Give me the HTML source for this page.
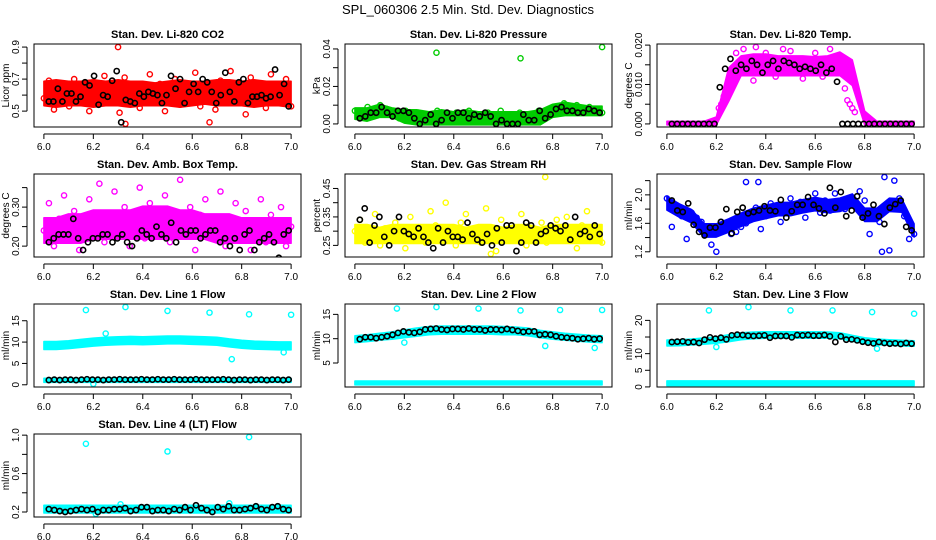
<!DOCTYPE html>
<html><head><meta charset="utf-8"><style>
html,body{margin:0;padding:0;background:#fff}
svg{display:block;font-family:"Liberation Sans",Arial,sans-serif}
</style></head><body>
<svg id="chart" width="936" height="540" viewBox="0 0 936 540" xmlns="http://www.w3.org/2000/svg">
<rect width="936" height="540" fill="#fff"/>
<text x="468" y="14" text-anchor="middle" font-size="13">SPL_060306  2.5 Min. Std. Dev. Diagnostics</text>
</svg>
<script>
const xTicks=[6.0,6.2,6.4,6.6,6.8,7.0];
const xTickLabels=["6.0","6.2","6.4","6.6","6.8","7.0"];
const bandX=[6.00,6.05,6.10,6.15,6.20,6.25,6.30,6.35,6.40,6.45,6.50,6.55,6.60,6.65,6.70,6.75,6.80,6.85,6.90,6.95,7.00];

const co2Lo=[0.54,0.53,0.54,0.54,0.53,0.54,0.54,0.53,0.54,0.54,0.54,0.53,0.54,0.55,0.54,0.54,0.54,0.53,0.54,0.54,0.53];
const co2Hi=[0.68,0.69,0.68,0.68,0.69,0.68,0.69,0.68,0.68,0.67,0.68,0.69,0.68,0.68,0.69,0.69,0.68,0.69,0.68,0.68,0.68];
const co2Pts=[0.58,0.69,0.51,0.62,0.66,0.53,0.70,0.57,0.64,0.50,0.68,0.60,0.72,0.55,0.63,0.49,0.71,0.59,0.66,0.52,0.61,0.73,0.56,0.67,0.50,0.64,0.70,0.54,0.62,0.58,0.74,0.53,0.66,0.60,0.51,0.69,0.57,0.75,0.55,0.63,0.48,0.71,0.59,0.67,0.52,0.73,0.61,0.56,0.70,0.53];
const co2Black=[0.56,0.56,0.64,0.56,0.61,0.61,0.56,0.59,0.68,0.66,0.72,0.54,0.60,0.59,0.69,0.75,0.43,0.57,0.56,0.55,0.61,0.59,0.62,0.61,0.60,0.55,0.60,0.72,0.64,0.70,0.55,0.62,0.67,0.62,0.70,0.68,0.62,0.55,0.60,0.74,0.62,0.56,0.68,0.70,0.55,0.59,0.59,0.60,0.58,0.59,0.76,0.60,0.67,0.53];
const co2OutX=[6.30,6.33,6.67];
const co2OutY=[0.90,0.42,0.43];

const presLo=[0.003,0.002,0.004,0.004,0.001,0.000,0.000,0.000,0.000,0.000,0.000,0.000,0.000,0.000,0.000,0.000,0.004,0.005,0.005,0.005,0.005];
const presHi=[0.008,0.008,0.010,0.008,0.007,0.007,0.006,0.007,0.006,0.007,0.006,0.006,0.006,0.006,0.006,0.007,0.010,0.011,0.010,0.009,0.009];
const presPts=[0.007,0.004,0.009,0.006,0.010,0.008,0.005,0.003,0.007,0.002,0.006,0.004,0.001,0.007,0.005,0.002,0.006,0.004,0.007,0.003,0.005,0.006,0.002,0.007,0.004,0.001,0.006,0.005,0.003,0.007,0.004,0.006,0.009,0.011,0.008,0.010,0.007,0.009,0.008,0.006];
const presBlack=[0.003,0.004,0.006,0.006,0.009,0.006,0.004,0.007,0.007,0.006,0.003,0.000,0.002,0.005,0.000,0.002,0.006,0.003,0.006,0.006,0.003,0.005,0.004,0.006,0.004,0.000,0.002,0.000,0.000,0.000,0.005,0.002,0.002,0.007,0.003,0.005,0.008,0.009,0.007,0.007,0.006,0.006,0.008,0.007,0.006];
const presOutX=[6.33,6.67,7.00];
const presOutY=[0.038,0.035,0.041];

const tempLo=[0,0,0,0,0,0.006,0.0125,0.0125,0.0125,0.0125,0.0125,0.0125,0.0125,0.0125,0.0125,0.010,0,0,0,0,0];
const tempHi=[0.0004,0.0004,0.0004,0.0004,0.0015,0.014,0.017,0.0175,0.0175,0.017,0.017,0.017,0.0168,0.017,0.018,0.016,0.003,0.0004,0.0004,0.0004,0.0004];
const tempOutX=[6.21,6.22,6.23,6.24,6.25,6.28,6.31,6.35,6.36,6.40,6.44,6.47,6.50,6.55,6.60,6.63,6.66,6.72,6.73,6.74,6.75,6.76];
const tempOutY=[0.004,0.005,0.007,0.009,0.010,0.018,0.019,0.011,0.0195,0.018,0.012,0.019,0.0185,0.0115,0.018,0.012,0.019,0.009,0.006,0.005,0.004,0.003];
const tempBlack=[0,0,0,0,0,0,0,0,0,0.0093,0.014,0.0165,0.0135,0.015,0.014,0.016,0.015,0.013,0.015,0.016,0.014,0.016,0.0155,0.015,0.014,0.0145,0.014,0.0135,0.015,0.013,0.014,0.0107,0,0,0,0,0,0,0,0,0,0,0,0,0,0];

const ambLo=[0.21,0.21,0.21,0.21,0.22,0.22,0.22,0.22,0.22,0.22,0.22,0.22,0.22,0.22,0.21,0.21,0.21,0.21,0.21,0.21,0.21];
const ambHi=[0.27,0.27,0.28,0.28,0.29,0.29,0.29,0.29,0.30,0.30,0.30,0.29,0.29,0.28,0.28,0.28,0.27,0.27,0.27,0.27,0.27];
const ambPts=[0.24,0.31,0.20,0.27,0.33,0.22,0.29,0.19,0.26,0.32,0.23,0.36,0.21,0.28,0.34,0.25,0.30,0.20,0.27,0.35,0.22,0.31,0.24,0.29,0.33,0.21,0.26,0.37,0.23,0.30,0.19,0.28,0.32,0.22,0.27,0.34,0.20,0.25,0.31,0.23,0.29,0.19,0.26,0.32,0.21,0.28,0.24,0.30,0.20,0.25];
const ambBlack=[0.21,0.22,0.23,0.23,0.23,0.27,0.22,0.19,0.21,0.22,0.22,0.23,0.23,0.21,0.22,0.23,0.21,0.20,0.22,0.24,0.23,0.22,0.25,0.23,0.22,0.26,0.21,0.24,0.23,0.24,0.24,0.22,0.23,0.24,0.24,0.21,0.22,0.20,0.22,0.19,0.23,0.24,0.19,0.21,0.22,0.23,0.21,0.17,0.23,0.24];

const rhLo=[0.26,0.26,0.26,0.26,0.26,0.26,0.26,0.26,0.26,0.26,0.26,0.26,0.26,0.26,0.26,0.26,0.26,0.26,0.26,0.26,0.26];
const rhHi=[0.32,0.32,0.31,0.32,0.32,0.32,0.32,0.32,0.32,0.31,0.32,0.32,0.31,0.32,0.32,0.31,0.32,0.32,0.32,0.32,0.32];
const rhPts=[0.30,0.34,0.26,0.28,0.36,0.25,0.31,0.27,0.33,0.29,0.24,0.35,0.28,0.30,0.26,0.37,0.32,0.27,0.40,0.29,0.25,0.33,0.36,0.28,0.31,0.26,0.38,0.30,0.23,0.34,0.27,0.32,0.29,0.36,0.25,0.31,0.28,0.33,0.26,0.30,0.34,0.27,0.35,0.29,0.24,0.32,0.37,0.28,0.30,0.26];
const rhBlack=[0.34,0.38,0.26,0.32,0.35,0.28,0.25,0.30,0.35,0.30,0.29,0.28,0.31,0.28,0.26,0.24,0.31,0.26,0.30,0.28,0.28,0.27,0.33,0.29,0.27,0.26,0.29,0.25,0.31,0.26,0.32,0.32,0.23,0.26,0.33,0.32,0.26,0.29,0.30,0.32,0.31,0.30,0.32,0.27,0.35,0.29,0.30,0.28,0.32,0.29];
const rhOutX=[6.77,6.55];
const rhOutY=[0.49,0.22];

const sfLo=[1.80,1.70,1.62,1.42,1.42,1.49,1.57,1.64,1.68,1.72,1.72,1.76,1.79,1.76,1.78,1.84,1.64,1.64,1.78,1.77,1.42];
const sfHi=[1.96,1.86,1.78,1.58,1.58,1.65,1.73,1.80,1.84,1.88,1.88,1.92,1.95,1.92,1.94,2.00,1.80,1.80,1.94,1.93,1.58];
const sfPts=[1.95,1.55,1.80,1.70,1.38,1.75,1.68,1.62,1.45,1.30,1.20,1.62,1.58,1.45,1.48,1.55,1.60,1.72,1.82,1.52,1.70,1.88,1.75,1.62,1.85,1.95,1.78,1.90,1.68,1.82,2.02,1.75,1.92,1.78,2.02,1.88,1.80,1.95,1.85,2.05,1.92,1.45,1.70,1.62,1.80,1.22,2.20,1.95,1.70,1.38,1.45];
const sfBlack=[1.92,1.78,1.76,1.88,1.58,1.48,1.43,1.54,1.54,1.62,1.80,1.46,1.76,1.82,1.74,1.76,1.78,1.84,1.78,1.77,1.93,1.68,1.77,1.86,1.86,1.97,1.86,1.81,1.74,2.10,1.82,2.04,1.70,1.78,1.98,1.68,1.74,1.86,1.70,1.59,1.82,1.87,1.92,1.55,1.50];
const sfOutX=[6.32,6.37,6.88,6.87];
const sfOutY=[2.18,2.18,2.25,1.20];

const l1Lo=[8.5,8.5,8.7,9.0,9.3,9.5,9.6,9.7,9.6,9.7,9.8,9.8,9.7,9.6,9.5,9.1,8.8,8.6,8.5,8.4,8.4];
const l1Hi=[9.9,9.9,10.1,10.4,10.7,10.9,11.0,11.1,11.0,11.1,11.2,11.2,11.1,11.0,10.9,10.5,10.2,10.0,9.9,9.8,9.8];
const l1LowLo=[0.8,0.8,0.8,0.8,0.8,0.8,0.8,0.8,0.8,0.8,0.8,0.8,0.8,0.8,0.8,0.8,0.8,0.8,0.8,0.8,0.8];
const l1LowHi=[1.3,1.3,1.3,1.3,1.3,1.3,1.4,1.4,1.4,1.4,1.4,1.4,1.4,1.4,1.3,1.3,1.3,1.3,1.3,1.3,1.3];
const l1Black=[1.1,1.2,1.1,1.2,1.2,1.1,1.2,1.3,1.2,1.2,1.1,1.2,1.2,1.3,1.2,1.2,1.2,1.3,1.2,1.2,1.3,1.2,1.2,1.3,1.2,1.2,1.2,1.3,1.2,1.2,1.2,1.2,1.3,1.2,1.1,1.2,1.2,1.1,1.2,1.2,1.1,1.2,1.2,1.1,1.2];
const l1OutX=[6.17,6.33,6.50,6.67,6.83,7.00,6.25,6.76,6.97,6.20];
const l1OutY=[17.5,18.2,17.3,16.9,16.5,16.4,12.0,6.0,7.6,0.2];

const l2Lo=[9.4,9.6,9.9,10.1,10.4,10.7,11.0,11.1,11.1,11.1,11.1,11.1,11.0,11.0,10.8,10.4,10.1,9.9,9.7,9.5,9.4];
const l2Hi=[10.4,10.6,10.9,11.2,11.6,12.0,12.3,12.4,12.4,12.4,12.4,12.4,12.3,12.2,12.0,11.5,11.2,10.9,10.7,10.5,10.4];
const l2LowLo=[0.7,0.7,0.7,0.7,0.7,0.7,0.7,0.7,0.7,0.7,0.7,0.7,0.7,0.7,0.7,0.7,0.7,0.7,0.7,0.7,0.7];
const l2LowHi=[1.1,1.1,1.1,1.1,1.1,1.1,1.1,1.1,1.1,1.1,1.1,1.1,1.1,1.1,1.1,1.1,1.1,1.1,1.1,1.1,1.1];
const l2Black=[9.9,10.3,10.3,10.1,10.3,10.5,10.8,11.2,11.5,11.3,11.2,11.4,11.9,12.0,12.1,11.9,11.8,12.0,12.0,11.9,12.1,11.9,11.9,11.7,11.9,11.9,11.8,12.0,11.8,11.6,11.4,11.5,11.5,10.8,10.9,10.8,10.5,10.3,10.2,10.1,9.9,10.0,10.1,9.9,10.0];
const l2OutX=[6.17,6.33,6.50,6.67,6.83,7.00,6.77,6.97,6.20];
const l2OutY=[16.2,16.5,16.2,15.8,15.9,15.9,8.5,8.1,9.2];

const l3Lo=[12.6,12.7,12.9,13.1,13.4,13.9,14.5,14.8,14.9,14.9,14.9,14.9,14.9,14.9,14.8,14.0,13.4,13.0,12.8,12.6,12.5];
const l3Hi=[13.8,13.9,14.1,14.4,14.8,15.4,16.0,16.2,16.3,16.3,16.3,16.3,16.3,16.2,16.0,15.2,14.5,14.1,13.9,13.7,13.6];
const l3LowLo=[0.7,0.7,0.7,0.7,0.7,0.7,0.7,0.7,0.7,0.7,0.7,0.7,0.7,0.7,0.7,0.7,0.7,0.7,0.7,0.7,0.7];
const l3LowHi=[1.5,1.5,1.5,1.5,1.5,1.5,1.5,1.5,1.5,1.5,1.5,1.5,1.5,1.5,1.5,1.5,1.5,1.5,1.5,1.5,1.5];
const l3Black=[13.5,13.6,13.7,13.4,13.5,13.2,14.2,14.9,14.5,14.8,14.3,15.5,15.7,15.6,15.4,15.3,15.4,15.5,14.8,15.3,15.3,15.3,14.9,15.6,15.5,15.6,15.4,15.4,15.6,15.2,13.5,15.2,14.2,14.3,14.0,13.6,13.3,13.1,13.5,13.2,13.0,13.1,12.9,13.2,13.0];
const l3OutX=[6.17,6.33,6.50,6.67,6.83,7.00,6.20,6.85];
const l3OutY=[23.0,24.0,23.0,23.0,22.5,22.0,12.0,11.5];

const l4Lo=[0.20,0.20,0.20,0.20,0.20,0.20,0.20,0.20,0.20,0.20,0.20,0.20,0.20,0.20,0.20,0.20,0.20,0.20,0.20,0.20,0.20];
const l4Hi=[0.26,0.26,0.26,0.26,0.26,0.26,0.26,0.26,0.26,0.26,0.26,0.26,0.26,0.26,0.26,0.26,0.26,0.26,0.26,0.26,0.26];
const l4Black=[0.23,0.22,0.21,0.20,0.21,0.22,0.23,0.22,0.23,0.20,0.22,0.22,0.23,0.23,0.24,0.21,0.22,0.25,0.25,0.21,0.22,0.22,0.21,0.23,0.22,0.25,0.22,0.27,0.24,0.22,0.20,0.25,0.23,0.26,0.22,0.22,0.23,0.24,0.26,0.23,0.22,0.25,0.26,0.23,0.22];
const l4OutX=[6.17,6.50,6.83,6.31,6.75,6.21];
const l4OutY=[0.91,0.83,0.98,0.28,0.29,0.18];

const panels=[
 {name:"co2",title:"Stan. Dev. Li-820 CO2",ylab:"Licor ppm",col:0,row:0,color:"#ff0000",ylim:[0.42,0.90],ticks:[0.5,0.6,0.7,0.8,0.9],labels:["0.5","","0.7","","0.9"],bands:[[co2Lo,co2Hi]],pts:co2Pts,black:co2Black,outX:co2OutX,outY:co2OutY},
 {name:"pressure",title:"Stan. Dev. Li-820 Pressure",ylab:"kPa",col:1,row:0,color:"#00cc00",ylim:[0,0.041],ticks:[0,0.01,0.02,0.03,0.04],labels:["0.00","","0.02","","0.04"],bands:[[presLo,presHi]],pts:presPts,black:presBlack,outX:presOutX,outY:presOutY},
 {name:"temp",title:"Stan. Dev. Li-820 Temp.",ylab:"degrees C",col:2,row:0,color:"#ff00ff",ylim:[0,0.0195],ticks:[0,0.005,0.010,0.015,0.020],labels:["0.000","","0.010","","0.020"],bands:[[tempLo,tempHi]],pts:[],black:tempBlack,outX:tempOutX,outY:tempOutY},
 {name:"amb-box",title:"Stan. Dev. Amb. Box Temp.",ylab:"degrees C",col:0,row:1,color:"#ff00ff",ylim:[0.18,0.377],ticks:[0.20,0.25,0.30,0.35],labels:["0.20","","0.30",""],bands:[[ambLo,ambHi]],pts:ambPts,black:ambBlack,outX:[],outY:[]},
 {name:"gas-rh",title:"Stan. Dev. Gas Stream RH",ylab:"percent",col:1,row:1,color:"#ffff00",ylim:[0.22,0.49],ticks:[0.25,0.30,0.35,0.40,0.45],labels:["0.25","","0.35","","0.45"],bands:[[rhLo,rhHi]],pts:rhPts,black:rhBlack,outX:rhOutX,outY:rhOutY},
 {name:"sample-flow",title:"Stan. Dev. Sample Flow",ylab:"ml/min",col:2,row:1,color:"#0000ff",ylim:[1.17,2.25],ticks:[1.2,1.4,1.6,1.8,2.0,2.2],labels:["1.2","","1.6","","2.0",""],bands:[[sfLo,sfHi]],pts:sfPts,black:sfBlack,outX:sfOutX,outY:sfOutY},
 {name:"line1",title:"Stan. Dev. Line 1 Flow",ylab:"ml/min",col:0,row:2,color:"#00ffff",ylim:[0.2,18.2],ticks:[0,5,10,15],labels:["0","5","10","15"],bands:[[l1Lo,l1Hi],[l1LowLo,l1LowHi]],pts:[],black:l1Black,outX:l1OutX,outY:l1OutY},
 {name:"line2",title:"Stan. Dev. Line 2 Flow",ylab:"ml/min",col:1,row:2,color:"#00ffff",ylim:[0.7,16.5],ticks:[5,10,15],labels:["5","10","15"],bands:[[l2Lo,l2Hi],[l2LowLo,l2LowHi]],pts:[],black:l2Black,outX:l2OutX,outY:l2OutY},
 {name:"line3",title:"Stan. Dev. Line 3 Flow",ylab:"ml/min",col:2,row:2,color:"#00ffff",ylim:[0.9,24.0],ticks:[0,5,10,15,20],labels:["0","5","10","","20"],bands:[[l3Lo,l3Hi],[l3LowLo,l3LowHi]],pts:[],black:l3Black,outX:l3OutX,outY:l3OutY},
 {name:"line4",title:"Stan. Dev. Line 4 (LT) Flow",ylab:"ml/min",col:0,row:3,color:"#00ffff",ylim:[0.18,0.98],ticks:[0.2,0.4,0.6,0.8,1.0],labels:["0.2","","0.6","","1.0"],bands:[[l4Lo,l4Hi]],pts:[],black:l4Black,outX:l4OutX,outY:l4OutY}
];

const NS="http://www.w3.org/2000/svg";
const svg=document.getElementById('chart');
function mk(tag,attrs,parent){const e=document.createElementNS(NS,tag);for(const k in attrs)e.setAttribute(k,attrs[k]);parent.appendChild(e);return e;}
const colLeft=[34,345,657], rowTop=[44,174,304,434], W=267, H=83;

panels.forEach(p=>{
  const L=colLeft[p.col], T=rowTop[p.row];
  const g=mk('g',{},svg);
  
  
  const xr=1.0*1.08, x0=6.0-0.04;
  const sx=v=>L+(v-x0)/xr*W;
  const yspan=p.ylim[1]-p.ylim[0], y0=p.ylim[0]-0.04*yspan, yr=yspan*1.08;
  const sy=v=>T+H-(v-y0)/yr*H;
  const clip='clip-'+p.name;
  const cp=mk('clipPath',{id:clip},g); mk('rect',{x:L,y:T,width:W,height:H},cp);
  const plot=mk('g',{'clip-path':'url(#'+clip+')'},g);
  p.bands.forEach((b,bi)=>{
    let d='';
    bandX.forEach((x,i)=>{d+=(i?'L':'M')+sx(x).toFixed(1)+','+(sy(b[1][i])-1).toFixed(1);});
    for(let i=bandX.length-1;i>=0;i--) d+='L'+sx(bandX[i]).toFixed(1)+','+(sy(b[0][i])+1).toFixed(1);
    const a=mk('path',{d:d+'Z',fill:p.color,stroke:p.color,'stroke-width':1.5,'stroke-linejoin':'round'},plot);
    
    
  });
  p.pts.forEach((v,i)=>{
    const x=6.0+i/(p.pts.length-1);
    const c=mk('circle',{cx:sx(x),cy:sy(v),r:2.6,fill:'none',stroke:p.color,'stroke-width':1.4},plot);
    
    
  });
  p.outX.forEach((x,i)=>{
    const c=mk('circle',{cx:sx(x),cy:sy(p.outY[i]),r:2.6,fill:'none',stroke:p.color,'stroke-width':1.4},plot);
    
    
  });
  p.black.forEach((v,i)=>{
    const x=6.02+0.97*i/(p.black.length-1);
    const c=mk('circle',{cx:sx(x),cy:sy(v),r:2.6,fill:'none',stroke:'#000','stroke-width':1.6},plot);
    
    
  });
  const box=mk('rect',{x:L,y:T,width:W,height:H,fill:'none',stroke:'#000','stroke-width':1},g);
  
  
  const xa=mk('g',{},g);
  
  
  mk('line',{x1:sx(6.0),x2:sx(7.0),y1:T+H+7,y2:T+H+7,stroke:'#000'},xa);
  xTicks.forEach((t,i)=>{
    mk('line',{x1:sx(t),x2:sx(t),y1:T+H+7,y2:T+H+12,stroke:'#000'},xa);
    const tx=mk('text',{x:sx(t),y:T+H+23,'text-anchor':'middle','font-size':10},xa);
    tx.textContent=xTickLabels[i];
  });
  const ya=mk('g',{},g);
  
  
  const ax=L-7;
  const vis=p.ticks.filter(t=>t>=y0&&t<=y0+yr);
  mk('line',{x1:ax,x2:ax,y1:sy(vis[0]),y2:sy(vis[vis.length-1]),stroke:'#000'},ya);
  p.ticks.forEach((t,i)=>{
    if(t<y0||t>y0+yr) return;
    mk('line',{x1:ax-5,x2:ax,y1:sy(t),y2:sy(t),stroke:'#000'},ya);
    if(p.labels[i]){
      const tx=mk('text',{x:ax-8,y:sy(t),'text-anchor':'middle','font-size':10,transform:`rotate(-90 ${ax-8} ${sy(t)})`},ya);
      tx.textContent=p.labels[i];
    }
  });
  const yl=mk('text',{x:L-25,y:T+H/2,'text-anchor':'middle','font-size':10,transform:`rotate(-90 ${L-25} ${T+H/2})`},g);
  yl.textContent=p.ylab;
  
  
  const tt=mk('text',{x:L+W/2,y:T-6,'text-anchor':'middle','font-size':11,'font-weight':'bold'},g);
  tt.textContent=p.title;
  
  
});
</script>
</body></html>
